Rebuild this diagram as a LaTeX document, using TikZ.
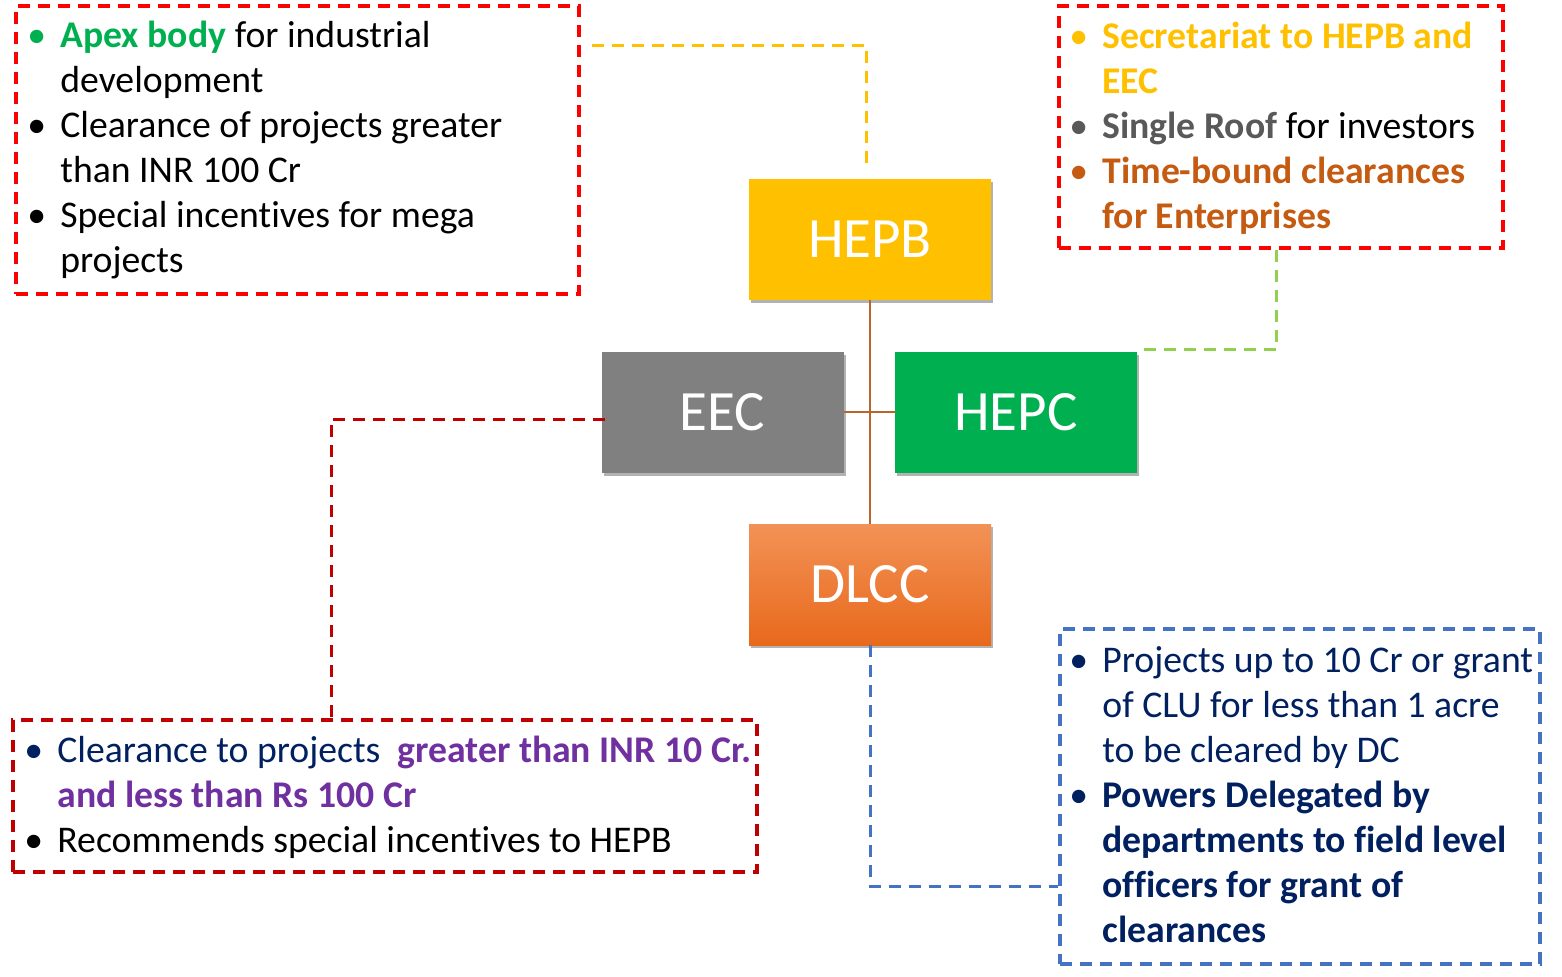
\documentclass[tikz,border=0pt]{standalone}
\usepackage{fontspec}
\setmainfont{Carlito}[Ligatures=NoCommon]
\usetikzlibrary{shadows,calc}
\definecolor{cYel}{HTML}{FFC000}
\definecolor{cGray}{HTML}{808080}
\definecolor{cGreen}{HTML}{00B050}
\definecolor{cOrTop}{HTML}{F29256}
\definecolor{cOrBot}{HTML}{E8691C}
\definecolor{cBrown}{HTML}{C55A11}
\definecolor{cLine}{HTML}{B8662E}
\definecolor{cRed}{HTML}{FF0000}
\definecolor{cDkRed}{HTML}{C00000}
\definecolor{cBlue}{HTML}{4472C4}
\definecolor{cLime}{HTML}{92D050}
\definecolor{cNavy}{HTML}{002060}
\definecolor{cPurple}{HTML}{7030A0}
\definecolor{cDkGray}{HTML}{595959}
\newcommand{\bul}[1]{\makebox[16.5pt][l]{\color{#1}\textbullet}}
\tikzset{
  org/.style={rectangle, minimum width=121pt, minimum height=60.5pt, inner sep=0pt,
    text=white, font=\fontsize{28.5}{30}\selectfont,
    drop shadow={shadow xshift=1pt, shadow yshift=-1.5pt, opacity=0.3, fill=black}},
  infobox/.style={rectangle, dash pattern=on 6pt off 4pt, line width=1.6pt, inner sep=0pt},
  infotext/.style={anchor=north west, inner sep=0pt, font=\fontsize{18.85}{22.5}\selectfont},
  link/.style={dash pattern=on 6pt off 4pt, line width=1.5pt},
  trunk/.style={draw=cLine, line width=1pt}
}
\begin{document}
\begin{tikzpicture}[x=0.5pt,y=-0.5pt]
\useasboundingbox (0,0) rectangle (1562,976);
% info boxes
\node[infobox, draw=cRed, minimum width=281.5pt, minimum height=144pt] (tl) at (297.5,150) {};
\node[infobox, draw=cRed, minimum width=222pt, minimum height=121pt] (tr) at (1281,127) {};
\node[infobox, draw=cDkRed, minimum width=372pt, minimum height=76pt] (bl) at (385,796) {};
\node[infobox, draw=cBlue, minimum width=240pt, minimum height=167.5pt] (br) at (1300,796.5) {};
% texts
\node[infotext] (tltext) at (27,15.5) {\begin{tabular}{@{}l@{}l@{}}
\bul{cGreen} & \textbf{\color{cGreen}Apex body} for industrial\\
 & development\\
\bul{black} & Clearance of projects greater\\
 & than INR 100 Cr\\
\bul{black} & Special incentives for mega\\
 & projects
\end{tabular}};
\node[infotext] (trtext) at (1069,16.5) {\begin{tabular}{@{}l@{}l@{}}
\bul{cYel} & \textbf{\color{cYel}Secretariat to HEPB and}\\
 & \textbf{\color{cYel}EEC}\\
\bul{cDkGray} & \textbf{\color{cDkGray}Single Roof} for investors\\
\bul{cBrown} & \textbf{\color{cBrown}Time-bound clearances}\\
 & \textbf{\color{cBrown}for Enterprises}
\end{tabular}};
\node[infotext] (bltext) at (24,730.5) {\begin{tabular}{@{}l@{}l@{}}
\bul{cNavy} & {\color{cNavy}Clearance to projects} \ \textbf{\color{cPurple}greater than INR 10 Cr.}\\
 & \textbf{\color{cPurple}and less than Rs 100 Cr}\\
\bul{black} & Recommends special incentives to HEPB
\end{tabular}};
\node[infotext] (brtext) at (1069,640.5) {\color{cNavy}\begin{tabular}{@{}l@{}l@{}}
\bul{cNavy} & Projects up to 10 Cr or grant\\
 & of CLU for less than 1 acre\\
 & to be cleared by DC\\
\bul{cNavy} & \textbf{Powers Delegated by}\\
 & \textbf{departments to field level}\\
 & \textbf{officers for grant of}\\
 & \textbf{clearances}
\end{tabular}};
% org nodes
\node[org, fill=cYel] (hepb) at (870,239.5) {HEPB};
\node[org, fill=cGray] (eec) at (722.5,412) {EEC};
\node[org, fill=cGreen] (hepc) at (1016,412) {HEPC};
\node[org, top color=cOrTop, bottom color=cOrBot] (dlcc) at (870,584.5) {DLCC};
% trunk connectors
\draw[trunk] (hepb.south) -- (dlcc.north);
\draw[trunk] (eec.east) -- (hepc.west);
% dashed links
\coordinate (yA) at ($(tl.east)+(11,-105)$);
\coordinate (yB) at ($(hepb.north)+(-4,-11)$);
\draw[link, draw=cYel] (yA) -| (yB);
\coordinate (gA) at ($(tr.south)+(-5,0)$);
\coordinate (gB) at ($(hepc.north east)+(3,-2)$);
\draw[link, draw=cLime] (gA) |- (gB);
\coordinate (rA) at ($(eec.west)+(4,7)$);
\coordinate (rB) at ($(bl.north west)+(320,0)$);
\draw[link, draw=cDkRed] (rA) -| (rB);
\draw[link, draw=cBlue] (dlcc.south) |- ($(br.west)+(0,89.5)$);
\end{tikzpicture}
\end{document}
